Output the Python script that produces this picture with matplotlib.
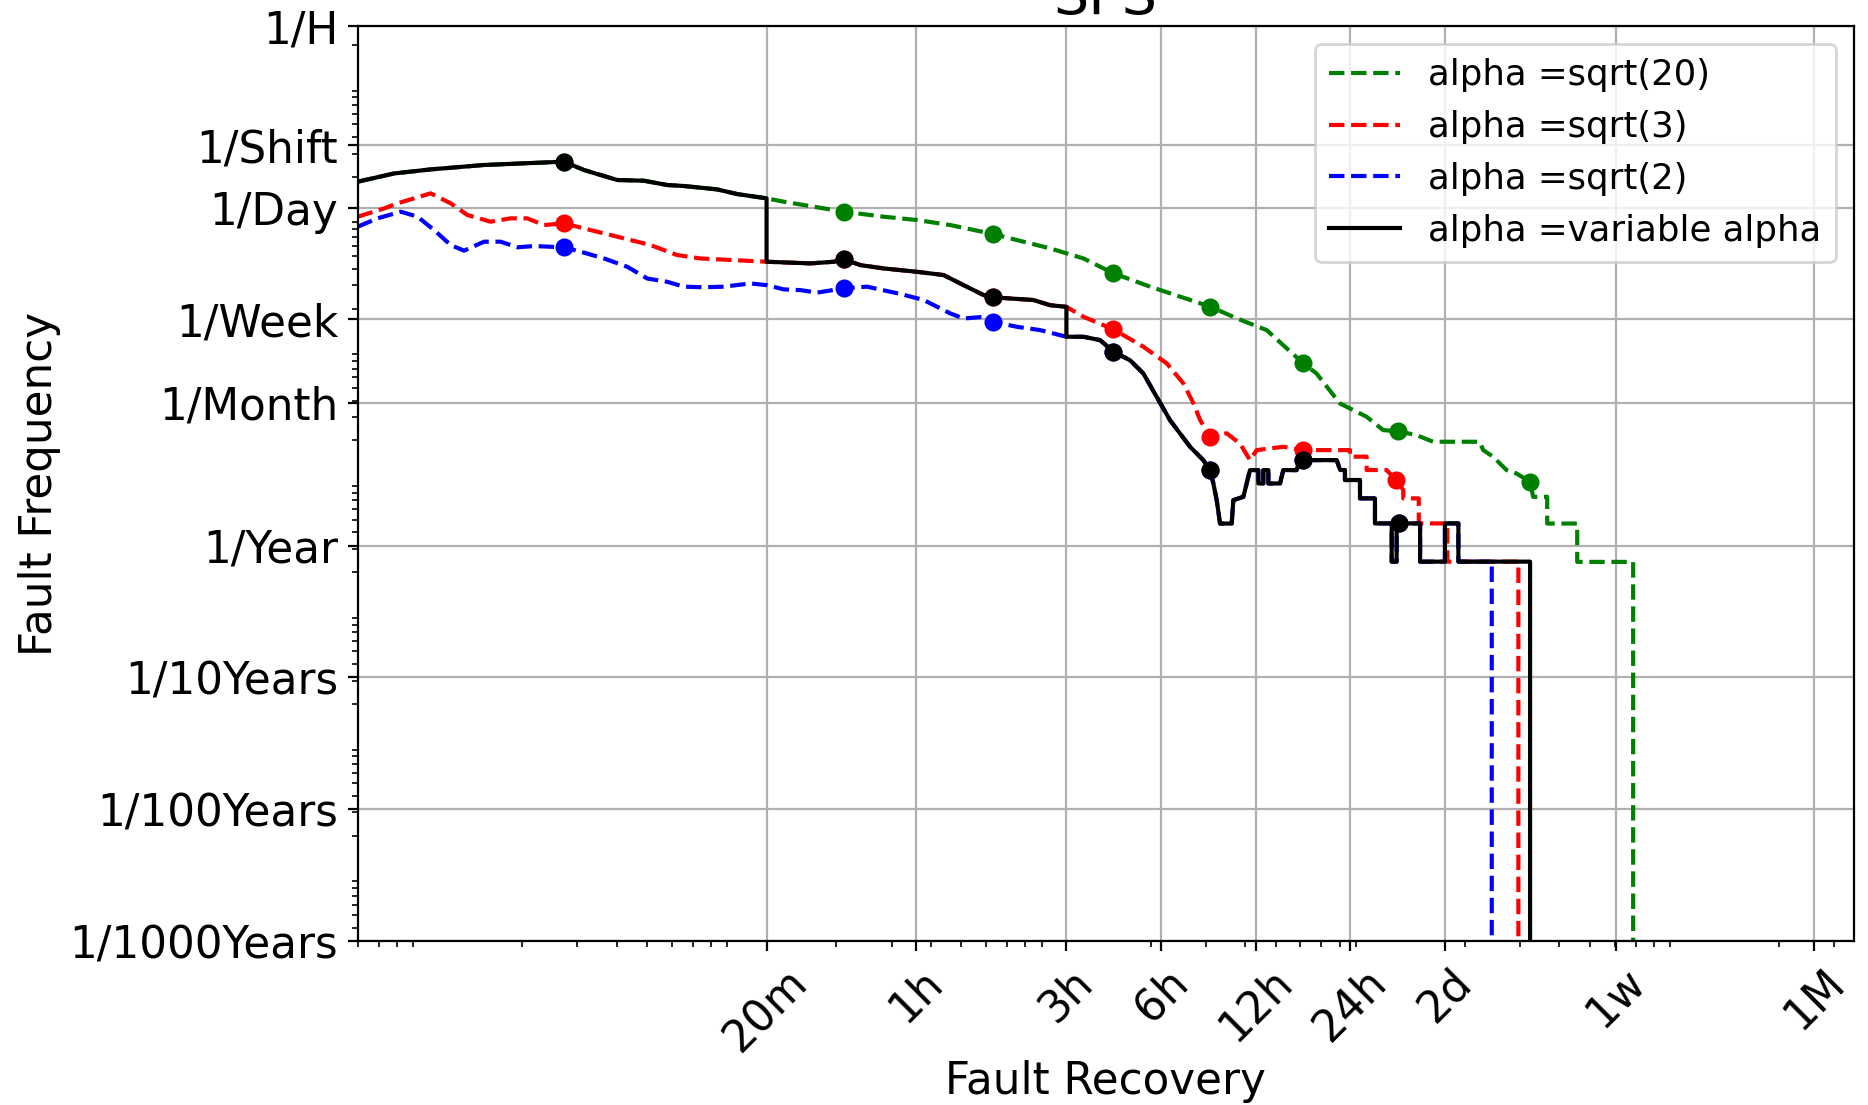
import numpy as np
import matplotlib
matplotlib.use('Agg')
import matplotlib.pyplot as plt
from matplotlib.ticker import NullFormatter

# x: fault recovery time in seconds, y: fault frequency in faults per second

# common start of sqrt(20) and variable alpha (up to 20m)
head_x = [60, 78.4, 102.5, 151.4, 272, 314.8, 401.8, 488.6, 579.7, 654.8, 835.9, 967.8, 1200]
head_y = [1.835e-5, 2.12e-5, 2.275e-5, 2.457e-5, 2.603e-5, 2.25e-5, 1.89e-5, 1.866e-5,
          1.731e-5, 1.702e-5, 1.603e-5, 1.478e-5, 1.372e-5]

# common part of sqrt(3) and variable alpha (20m - 3h)
mid_x = [1200, 1656, 1965, 2114, 2389, 2832, 3613, 4392, 5085, 5887, 6302, 7157, 8484, 9587, 10800]
mid_y = [4.53e-6, 4.40e-6, 4.53e-6, 4.72e-6, 4.27e-6, 4.03e-6, 3.80e-6, 3.59e-6, 3.01e-6,
         2.53e-6, 2.43e-6, 2.385e-6, 2.32e-6, 2.12e-6, 2.06e-6]

# common part of sqrt(2) and variable alpha (after 3h)
tail_x = [10800, 12240, 13830, 15250, 17210, 18980, 20930, 23080, 26720, 29450, 30940, 31700,
          32490, 33290, 36250, 36700, 39490, 41460, 44080, 44080, 45720, 45720, 47430, 47430,
          51660, 52920, 58360, 59800, 61300, 78240, 80300, 83150, 83150, 92830, 92830, 103600,
          103600, 117100, 117100, 121400, 121400, 123100, 144200, 144200, 173000, 173000,
          190900, 190900]
tail_y = [1.221e-6, 1.221e-6, 1.151e-6, 9.39e-7, 8.11e-7, 6.43e-7, 4.27e-7, 2.84e-7, 1.786e-7,
          1.415e-7, 1.188e-7, 9.41e-8, 7.03e-8, 4.67e-8, 4.67e-8, 7.03e-8, 7.45e-8, 1.188e-7,
          1.188e-7, 9.41e-8, 9.41e-8, 1.188e-7, 1.188e-7, 9.41e-8, 9.41e-8, 1.188e-7, 1.188e-7,
          1.415e-7, 1.415e-7, 1.415e-7, 1.19e-7, 1.19e-7, 9.99e-8, 9.99e-8, 7.25e-8, 7.25e-8,
          4.68e-8, 4.68e-8, 2.40e-8, 2.40e-8, 4.68e-8, 4.68e-8, 4.68e-8, 2.40e-8, 2.40e-8,
          4.68e-8, 4.68e-8, 2.40e-8]

# sqrt(20) after 20m
green_x = [1362, 2113, 2832, 3613, 4613, 6302, 7510, 9587, 12235, 15250, 19950, 30940, 37600,
           46850, 61300, 67500, 80100, 97400, 110000, 122800, 140400, 158700, 223400, 228900,
           246300, 271600, 292300, 322300, 330300, 366000, 366000, 456000, 456000, 687000, 687000]
green_y = [1.293e-5, 1.086e-5, 9.95e-6, 9.39e-6, 8.60e-6, 7.36e-6, 6.62e-6, 5.72e-6, 4.80e-6,
           3.70e-6, 2.93e-6, 2.07e-6, 1.685e-6, 1.372e-6, 7.66e-7, 6.43e-7, 3.81e-7, 3.02e-7,
           2.39e-7, 2.34e-7, 2.19e-7, 1.95e-7, 1.95e-7, 1.685e-7, 1.50e-7, 1.19e-7, 1.12e-7,
           9.7e-8, 7.45e-8, 7.45e-8, 4.67e-8, 4.67e-8, 2.39e-8, 2.39e-8, 1e-12]

# sqrt(3) before 20m and after 3h
red_x = [60, 72.9, 80.3, 102.4, 118.6, 134, 158.9, 183.9, 207.8, 234.8, 272, 314.8, 401.8,
         513, 623.5, 739, 943.5]
red_y = [9.95e-6, 1.151e-5, 1.257e-5, 1.497e-5, 1.257e-5, 1.025e-5, 9.12e-6, 9.67e-6, 9.67e-6,
         8.60e-6, 8.86e-6, 8.11e-6, 7.02e-6, 6.06e-6, 5.09e-6, 4.80e-6, 4.66e-6]
red_tail_x = [12240, 15250, 18990, 22540, 25460, 27400, 28770, 30940, 34950, 38530, 41460,
              43540, 52920, 61300, 86260, 86260, 97450, 97450, 112800, 121000, 127500, 127500,
              142800, 142800, 176100, 176100, 296300, 296300]
red_tail_y = [1.73e-6, 1.389e-6, 1.025e-6, 7.66e-7, 5.40e-7, 3.81e-7, 2.85e-7, 2.13e-7,
              2.26e-7, 1.89e-7, 1.415e-7, 1.685e-7, 1.786e-7, 1.685e-7, 1.685e-7, 1.503e-7,
              1.503e-7, 1.19e-7, 1.19e-7, 9.97e-8, 8.39e-8, 7.25e-8, 7.25e-8, 4.68e-8, 4.68e-8,
              2.40e-8, 2.40e-8, 1e-12]

# sqrt(2) before 3h
blue_x = [60, 69.4, 82.3, 93, 105, 118.6, 130.8, 151.4, 171, 193.3, 218.3, 272, 314.8, 364.4,
          432.3, 500.7, 579.7, 654.8, 757.7, 877, 1066, 1203, 1360, 1537, 1738, 2113, 2506,
          3201, 3797, 4613, 5085, 5887, 6302, 7510, 8910]
blue_y = [8.36e-6, 9.67e-6, 1.086e-5, 9.95e-6, 7.88e-6, 6.06e-6, 5.50e-6, 6.43e-6, 6.43e-6,
          5.83e-6, 5.96e-6, 5.83e-6, 5.31e-6, 4.80e-6, 4.15e-6, 3.38e-6, 3.19e-6, 2.93e-6,
          2.90e-6, 2.93e-6, 3.10e-6, 3.01e-6, 2.795e-6, 2.76e-6, 2.64e-6, 2.85e-6, 2.93e-6,
          2.58e-6, 2.32e-6, 1.835e-6, 1.68e-6, 1.73e-6, 1.586e-6, 1.454e-6, 1.372e-6]

# last step of each curve
blue_end_x = [243800, 243800]
black_end_x = [322800, 322800]
end_y = [2.40e-8, 1e-12]

# where the dots sit
mark_at = [272, 2114, 6302, 15250, 30940, 61300, 123100, 322300]

xtick_vals = [1200, 3600, 10800, 21600, 43200, 86400, 172800, 604800, 2592000]
xtick_labels = ['20m', '1h', '3h', '6h', '12h', '24h', '2d', '1w', '1M']
# periods in seconds for the y ticks
ytick_periods = [3600, 8 * 3600, 86400, 604800, 30 * 86400, 365 * 86400,
                 3650 * 86400, 36500 * 86400, 365000 * 86400]
ytick_labels = ['1/H', '1/Shift', '1/Day', '1/Week', '1/Month', '1/Year',
                '1/10Years', '1/100Years', '1/1000Years']


def marks(xs, ys, at):
    lx = np.log10(xs)
    idx = [int(np.argmin(np.abs(lx - np.log10(a)))) for a in at]
    return xs[idx], ys[idx]


series = [
    (head_x + green_x, head_y + green_y, 'green', '--', 'alpha =sqrt(20)', mark_at),
    (red_x + mid_x + red_tail_x, red_y + mid_y + red_tail_y, 'red', '--', 'alpha =sqrt(3)', mark_at[:7]),
    (blue_x + tail_x + blue_end_x, blue_y + tail_y + end_y, 'blue', '--', 'alpha =sqrt(2)', mark_at[:7]),
    (head_x + mid_x + tail_x + black_end_x, head_y + mid_y + tail_y + end_y, 'black', '-',
     'alpha =variable alpha', mark_at[:7]),
]

fig = plt.figure(figsize=(9.34, 5.525), dpi=200)
ax = fig.add_axes([0.1915, 0.1484, 0.8008, 0.8279])

for xs, ys, c, ls, lab, at in series:
    xs = np.array(xs, dtype=float)
    ys = np.array(ys, dtype=float)
    ax.plot(xs, ys, color=c, linestyle=ls, linewidth=1.5, label=lab)
    mx, my = marks(xs, ys, at)
    ax.plot(mx, my, 'o', color=c, markersize=5.5)

ax.set_xscale('log')
ax.set_yscale('log')
ax.set_xlim(60, 40 * 86400)
ax.set_ylim(1.0 / ytick_periods[-1], 1.0 / ytick_periods[0])

ax.set_xticks(xtick_vals)
ax.set_xticklabels(xtick_labels, rotation=45)
ax.set_yticks([1.0 / p for p in ytick_periods])
ax.set_yticklabels(ytick_labels)
ax.xaxis.set_minor_formatter(NullFormatter())
ax.yaxis.set_minor_formatter(NullFormatter())
ax.tick_params(labelsize=15.7)

ax.grid(True, which='major')
ax.set_xlabel('Fault Recovery', fontsize=15.7, labelpad=0)
ax.set_ylabel('Fault Frequency', fontsize=15.7, labelpad=3)
ax.set_title('SPS', fontsize=20, pad=4.5)
ax.legend(loc='upper right', fontsize=12.8)

fig.savefig('out.png', dpi=200)
